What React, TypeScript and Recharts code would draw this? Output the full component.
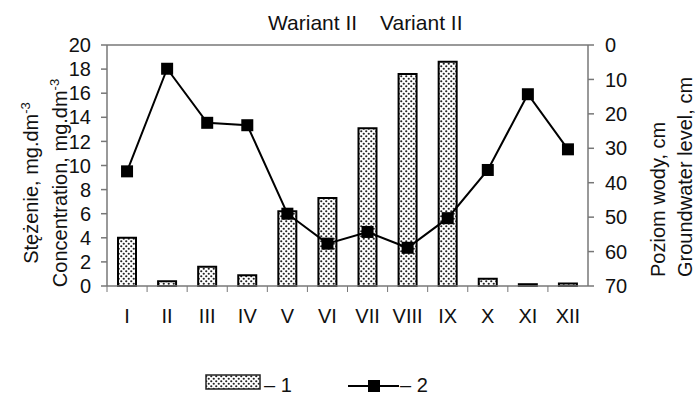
import React from "react";
import {
  ComposedChart, Bar, Line, XAxis, YAxis, ReferenceLine,
} from "recharts";

const months = ["I", "II", "III", "IV", "V", "VI", "VII", "VIII", "IX", "X", "XI", "XII"];
const concentration = [4.0, 0.4, 1.6, 0.9, 6.2, 7.3, 13.1, 17.6, 18.6, 0.6, 0.15, 0.2];
const waterLevel = [36.7, 6.9, 22.6, 23.3, 49, 57.7, 54.3, 58.9, 50.3, 36.3, 14.3, 30.3];
const concTicks = [0, 2, 4, 6, 8, 10, 12, 14, 16, 18, 20];
const levelTicks = [0, 10, 20, 30, 40, 50, 60, 70];

const data = months.map((m, i) => ({ m, conc: concentration[i], level: waterLevel[i] }));

const FONT = "'Liberation Sans', Arial, sans-serif";
const INK = "#111";
const AXIS = "#777";
const BAND = 481 / 12;

function MonthTick({ x, y, payload }: any) {
  return (
    <g>
      <line x1={x - BAND / 2} y1={y - 8} x2={x - BAND / 2} y2={y - 2} stroke={AXIS} />
      <text x={x} y={y + 29} textAnchor="middle" fontSize={20} fontFamily={FONT} fill={INK}>
        {payload.value}
      </text>
    </g>
  );
}

function SquareDot({ cx, cy, index }: any) {
  return <rect key={index} x={cx - 6} y={cy - 6} width={12} height={12} fill="#000" />;
}

function SideTitles() {
  const t = { fontSize: 20, fontFamily: FONT, fill: INK };
  return (
    <g>
      <text transform="translate(38,183) rotate(-90)" textAnchor="middle" {...t}>
        Stężenie, mg.dm<tspan dy={-8} fontSize={13}>-3</tspan>
      </text>
      <text transform="translate(67,183) rotate(-90)" textAnchor="middle" {...t}>
        Concentration, mg.dm<tspan dy={-8} fontSize={13}>-3</tspan>
      </text>
      <text transform="translate(665,277) rotate(-90)" {...t}>Poziom wody, cm</text>
      <text transform="translate(692,277) rotate(-90)" {...t}>Groundwater level, cm</text>
    </g>
  );
}

export default function App() {
  const tickStyle = { fontSize: 20, fontFamily: FONT, fill: INK };
  return (
    <div style={{ position: "absolute", left: 0, top: 0, width: 699, height: 400, background: "#fff" }}>
      <ComposedChart width={699} height={400} data={data} margin={{ top: 45, right: 0, bottom: 84, left: 0 }}>
        <defs>
          <pattern id="dots" width="5" height="5" patternUnits="userSpaceOnUse">
            <rect width="5" height="5" fill="#fff" />
            <circle cx="1.25" cy="1.25" r="1.1" fill="#222" />
            <circle cx="3.75" cy="3.75" r="1.1" fill="#222" />
          </pattern>
        </defs>
        <XAxis dataKey="m" stroke={AXIS} strokeWidth={1.5} tickLine={false} tick={<MonthTick />} interval={0} />
        <YAxis
          yAxisId="left" width={107} domain={[0, 20]} ticks={concTicks} interval={0}
          stroke={AXIS} strokeWidth={1.5} tickSize={6} tickMargin={10} tick={tickStyle}
        />
        <YAxis
          yAxisId="right" orientation="right" width={111} domain={[0, 70]} reversed
          ticks={levelTicks} interval={0} stroke={AXIS} strokeWidth={1.5}
          tickSize={6} tickMargin={11} tick={tickStyle}
        />
        <ReferenceLine yAxisId="left" y={20} stroke={AXIS} strokeWidth={1.5} />
        <Bar yAxisId="left" dataKey="conc" barSize={18} fill="url(#dots)" stroke="#000" strokeWidth={2} isAnimationActive={false} />
        <Line
          yAxisId="right" dataKey="level" stroke="#000" strokeWidth={2}
          dot={<SquareDot />} activeDot={false} isAnimationActive={false}
        />
        <SideTitles />
      </ComposedChart>
      {/* title and legend */}
      <svg style={{ position: "absolute", left: 0, top: 0, pointerEvents: "none" }} width={699} height={400}>
        <text x={268} y={30} fontSize={21} fontFamily={FONT} fill={INK}>Wariant II</text>
        <text x={380} y={30} fontSize={21} fontFamily={FONT} fill={INK}>Variant II</text>
        <rect x={206} y={375} width={54} height={14} fill="url(#dots)" stroke="#222" strokeWidth={1.5} />
        <text x={264} y={392} fontSize={20} fontFamily={FONT} fill={INK}>– 1</text>
        <line x1={348} y1={386} x2={399} y2={386} stroke="#000" strokeWidth={2} />
        <rect x={368} y={380} width={12} height={12} fill="#000" />
        <text x={400} y={392} fontSize={20} fontFamily={FONT} fill={INK}>– 2</text>
      </svg>
    </div>
  );
}
